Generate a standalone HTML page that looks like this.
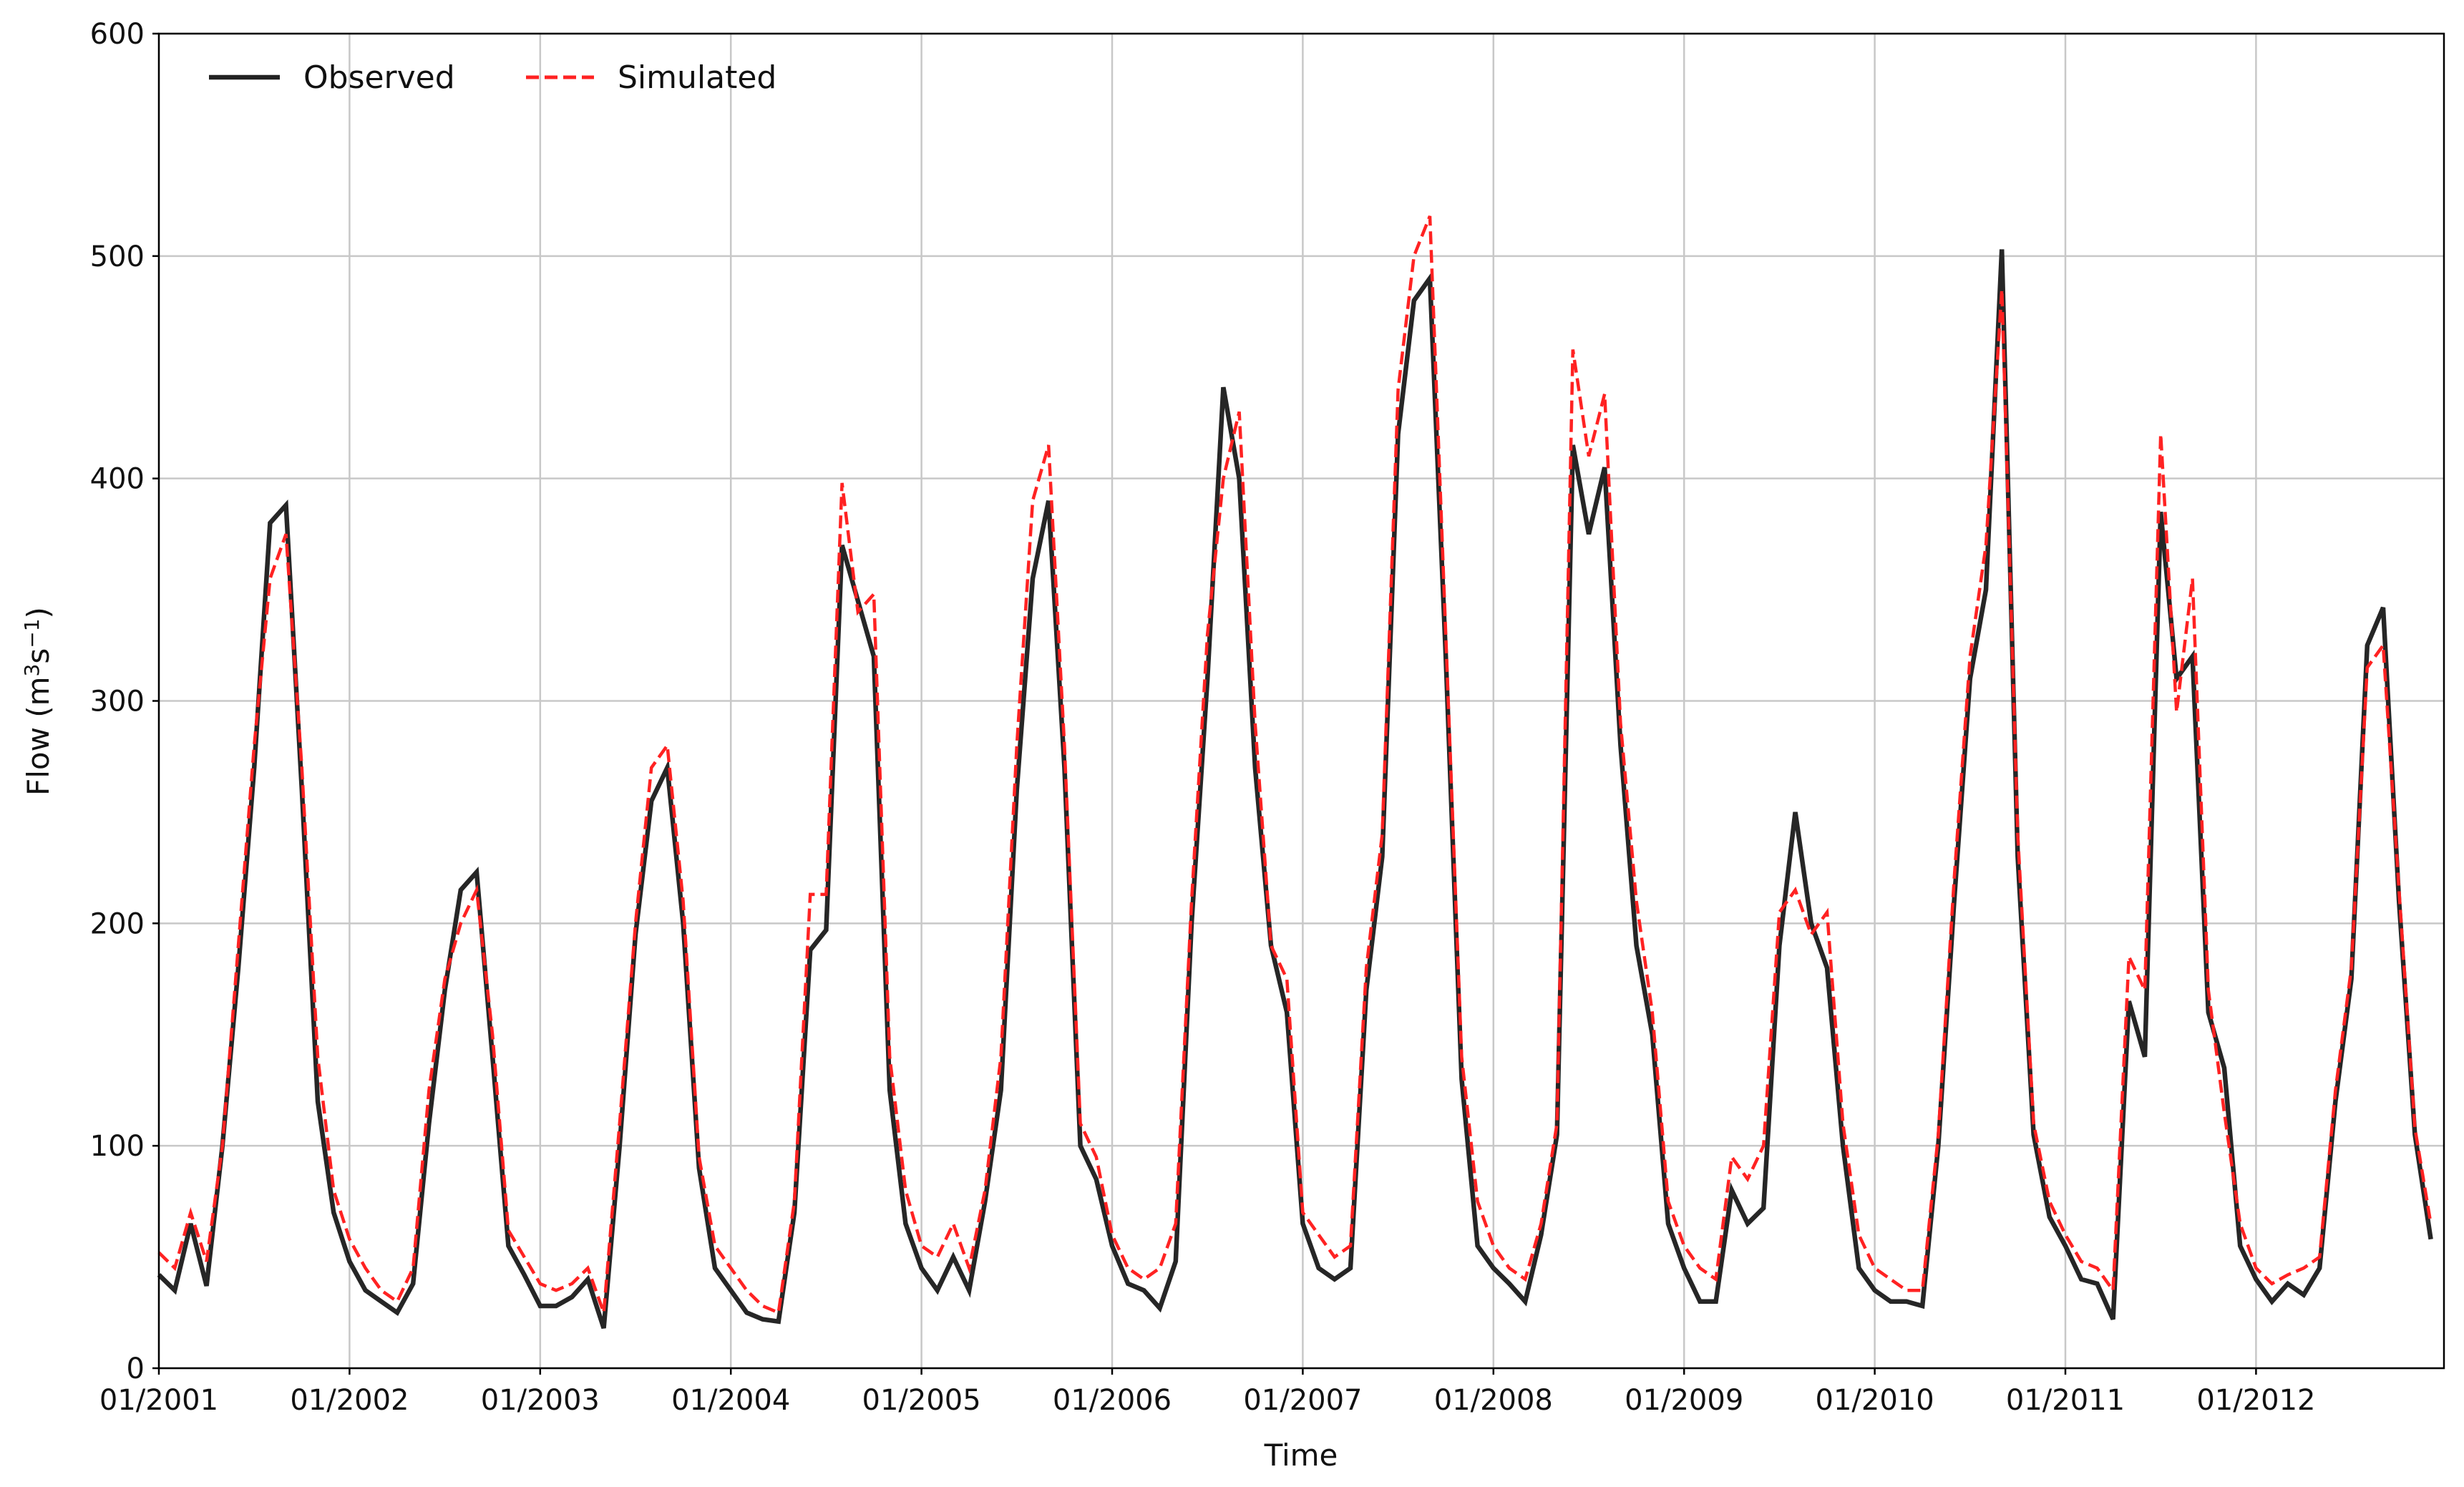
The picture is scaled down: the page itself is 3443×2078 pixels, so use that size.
<!DOCTYPE html>
<html><head><meta charset="utf-8"><style>
html,body{margin:0;padding:0;background:#fff;}
svg{display:block;font-family:"DejaVu Sans","Liberation Sans",sans-serif;}
</style></head><body>
<svg id="chart" width="3443" height="2078" viewBox="0 0 3443 2078" xmlns="http://www.w3.org/2000/svg">
<rect x="0" y="0" width="3443" height="2078" fill="#fff"/>
<g id="grid"></g>
<g id="series"></g>
<rect x="222" y="47" width="3193" height="1865" fill="none" stroke="#000" stroke-width="2.5"/>
<g id="ticks"></g>
<text x="1818" y="2048" font-size="42" text-anchor="middle" fill="#111">Time</text>
<text transform="translate(68,980) rotate(-90)" font-size="42" text-anchor="middle" fill="#111">Flow (m<tspan font-size="28" dy="-14">3</tspan><tspan dy="14">s</tspan><tspan font-size="28" dy="-14">−1</tspan><tspan dy="14">)</tspan></text>
<g>
<line x1="292" y1="108" x2="391" y2="108" stroke="#222" stroke-width="6.5"/>
<text x="424" y="123" font-size="44" fill="#111">Observed</text>
<line x1="735" y1="108" x2="830" y2="108" stroke="#ff2222" stroke-width="5" stroke-dasharray="18,8"/>
<text x="863" y="123" font-size="44" fill="#111">Simulated</text>
</g>
</svg>
<script>
const yearLabels = ["01/2001","01/2002","01/2003","01/2004","01/2005","01/2006","01/2007","01/2008","01/2009","01/2010","01/2011","01/2012"];
const yTicks = [0,100,200,300,400,500,600];
const observed = [
42,35,65,37,100,180,270,380,388,260,120,70,
48,35,30,25,38,110,170,215,223,140,55,42,
28,28,32,40,18,100,195,255,270,200,90,45,
35,25,22,21,70,188,197,370,345,320,125,65,
45,35,50,35,75,125,260,355,390,270,100,85,
55,38,35,27,48,200,310,441,400,270,190,160,
65,45,40,45,170,230,420,480,490,320,130,55,
45,38,30,60,105,415,375,405,280,190,150,65,
45,30,30,80,65,72,190,250,200,180,100,45,
35,30,30,28,100,210,310,350,503,230,105,68,
55,40,38,22,165,140,385,310,320,160,135,55,
40,30,38,33,45,120,175,325,342,210,105,58];
const simulated = [
52,45,70,48,100,190,280,355,375,270,140,80,
58,45,35,30,45,125,175,200,215,150,62,50,
38,35,38,45,25,110,200,270,280,210,95,55,
45,35,28,25,75,213,213,398,340,348,140,80,
55,50,65,45,80,140,280,390,415,280,110,95,
60,45,40,45,65,210,330,400,430,290,190,175,
70,60,50,55,180,240,440,500,518,330,140,75,
55,45,40,65,110,458,410,438,290,210,160,75,
55,45,40,95,85,100,205,215,195,205,110,60,
45,40,35,35,105,220,320,370,485,240,110,75,
60,48,45,35,185,170,420,295,355,170,115,65,
45,38,42,45,50,125,180,315,325,215,108,65];

const NS="http://www.w3.org/2000/svg";
const L=222,R=3415,T=47,B=1912;
const monthW=22.2;
function xS(i){return L+i*monthW;}
function yS(v){return B-(v/600)*(B-T);}
function mk(tag,attrs,parent){const e=document.createElementNS(NS,tag);for(const k in attrs)e.setAttribute(k,attrs[k]);parent.appendChild(e);return e;}
const grid=document.getElementById('grid'),ticks=document.getElementById('ticks'),series=document.getElementById('series');
yTicks.forEach(v=>{
  const g=mk('line',{x1:L,x2:R,y1:yS(v),y2:yS(v),stroke:'#c8c8c8','stroke-width':2.5},grid);
  
  
  const t=mk('line',{x1:L-9,x2:L,y1:yS(v),y2:yS(v),stroke:'#000','stroke-width':2.5},ticks);
  
  
  const tx=mk('text',{x:L-20,y:yS(v)+14,'font-size':40,'text-anchor':'end',fill:'#111'},ticks);
  tx.textContent=v;
  
  
});
yearLabels.forEach((lab,i)=>{
  const x=xS(i*12);
  const g=mk('line',{x1:x,x2:x,y1:T,y2:B,stroke:'#c8c8c8','stroke-width':2.5},grid);
  
  
  const t=mk('line',{x1:x,x2:x,y1:B,y2:B+9,stroke:'#000','stroke-width':2.5},ticks);
  
  
  const tx=mk('text',{x:x,y:B+58,'font-size':40,'text-anchor':'middle',fill:'#111'},ticks);
  tx.textContent=lab;
  
  
});
function pts(arr){return arr.map((v,i)=>xS(i).toFixed(1)+','+yS(v).toFixed(1)).join(' ');}
const ob=mk('polyline',{points:pts(observed),fill:'none',stroke:'#262626','stroke-width':6.5,'stroke-linejoin':'miter'},series);


const sm=mk('polyline',{points:pts(simulated),fill:'none',stroke:'#ff2222','stroke-width':4.5,'stroke-dasharray':'18,8'},series);


</script>
</body></html>
